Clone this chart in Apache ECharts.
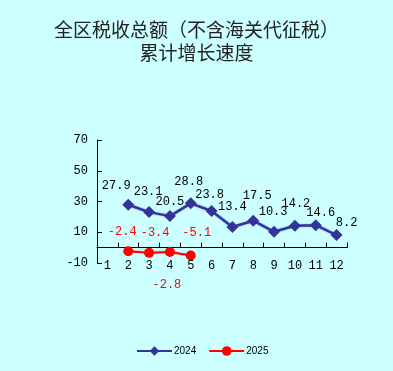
<!DOCTYPE html>
<html>
<head>
<meta charset="utf-8">
<script src="https://cdn.jsdelivr.net/npm/echarts@6/dist/echarts.min.js"></script>
<style>html,body{margin:0;padding:0;background:#CCFFFF;}#c{width:393px;height:371px;}</style>
</head>
<body>
<div id="c"></div>
<script>
var titleLines = ['全区税收总额（不含海关代征税）', '累计增长速度'];
var months = ['1','2','3','4','5','6','7','8','9','10','11','12'];
var series2024 = [null, 27.9, 23.1, 20.5, 28.8, 23.8, 13.4, 17.5, 10.3, 14.2, 14.6, 8.2];
var series2025 = [null, -2.4, -3.4, -2.8, -5.1, null, null, null, null, null, null, null];
var seriesNames = ['2024', '2025'];
var yMin = -10, yMax = 70, yStep = 20;

var mono = '"Liberation Mono", "DejaVu Sans Mono", monospace';
// label offsets [dx, dy] from the point centre (style only)
var blueOff = [null, [-12,-19], [-1,-20], [0,-14], [-2,-22], [-2,-16], [0,-20], [4,-25], [-1,-20], [1,-22], [5,-12.5], [10,-12]];
var redOff = [null, [-6,-19], [6,-20], [-3,33], [6,-23]];

var blueData = series2024.map(function(v, i){
  if (v == null) return null;
  return {value: v, label: {offset: blueOff[i]}};
});
var redData = series2025.map(function(v, i){
  if (v == null) return null;
  return {value: v, label: {offset: redOff[i]}};
});

var chart = echarts.init(document.getElementById('c'));
chart.setOption({
  backgroundColor: '#CCFFFF',
  animation: false,
  title: {
    text: titleLines.join('\n'),
    left: 'center',
    top: 13,
    textStyle: {fontFamily: '"Noto Sans CJK SC"', fontSize: 19, fontWeight: 'normal', color: '#222', lineHeight: 23}
  },
  legend: {
    bottom: 10,
    left: 131,
    itemWidth: 35,
    itemHeight: 12,
    itemGap: 12,
    textStyle: {fontFamily: 'Arial, "Liberation Sans"', fontSize: 10, color: '#000', padding: [0,0,0,-3]},
    data: seriesNames
  },
  grid: {left: 97, right: 46, top: 140, bottom: 108},
  xAxis: {
    type: 'category',
    data: months,
    boundaryGap: true,
    axisLine: {onZero: true, lineStyle: {color: '#000', width: 1}},
    axisTick: {show: true, inside: true, length: 5, lineStyle: {color: '#000'}},
    axisLabel: {margin: -3, fontFamily: mono, fontSize: 12, color: '#000'},
    splitLine: {show: false}
  },
  yAxis: {
    type: 'value',
    min: yMin, max: yMax, interval: yStep,
    axisLine: {show: true, lineStyle: {color: '#000', width: 1}},
    axisTick: {show: true, inside: true, length: 5, lineStyle: {color: '#000'}},
    axisLabel: {margin: 9, fontFamily: mono, fontSize: 12, color: '#000'},
    splitLine: {show: false}
  },
  series: [
    {
      name: seriesNames[0],
      type: 'line',
      data: blueData,
      symbol: 'diamond',
      symbolSize: 12,
      itemStyle: {color: '#333399'},
      lineStyle: {color: '#333399', width: 2.5, shadowColor: 'rgba(120,130,220,0.7)', shadowBlur: 2},
      label: {show: true, position: 'inside', fontFamily: mono, fontSize: 12, color: '#000'}
    },
    {
      name: seriesNames[1],
      type: 'line',
      data: redData,
      symbol: 'circle',
      symbolSize: 10,
      itemStyle: {color: '#FF0000'},
      lineStyle: {color: '#FF0000', width: 2, shadowColor: 'rgba(255,120,120,0.7)', shadowBlur: 2},
      label: {show: true, position: 'inside', fontFamily: mono, fontSize: 12, color: '#FF0000'}
    }
  ]
});
</script>
</body>
</html>
